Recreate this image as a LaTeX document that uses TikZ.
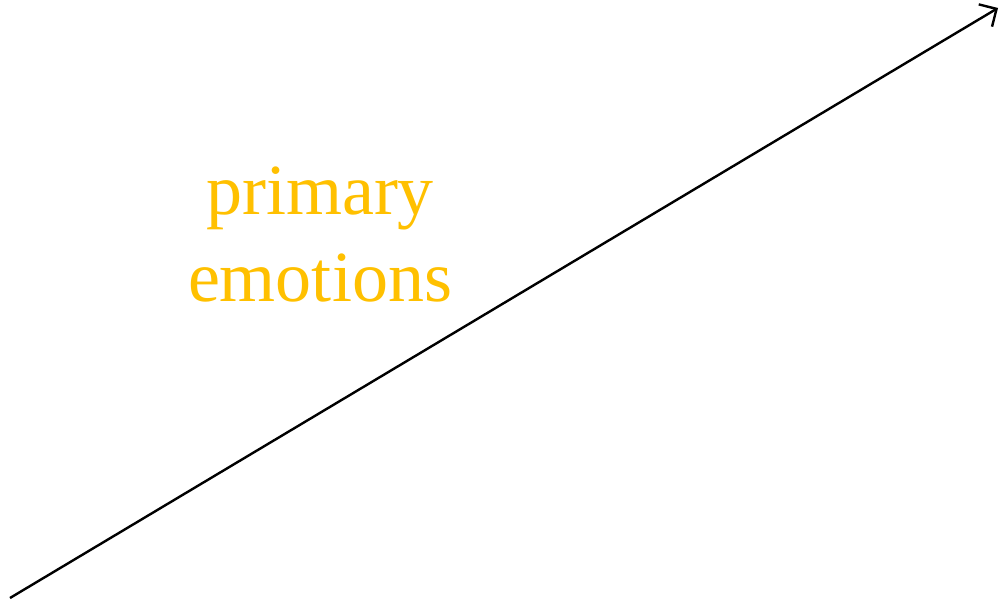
\documentclass[tikz,border=0pt]{standalone}
\usepackage{fontspec}
\setmainfont{Liberation Serif}
\usetikzlibrary{arrows.meta}
\definecolor{labelgold}{HTML}{FFC000}
\tikzset{
  axisarrow/.style={draw=black, line width=2.4pt, -{Straight Barb[length=13pt,width=26pt,line width=2.4pt]}},
  emolabel/.style={text=labelgold, align=center, inner sep=0pt,
    font=\fontsize{72}{87}\selectfont}
}
\begin{document}
\begin{tikzpicture}[x=1pt,y=-1pt]
\useasboundingbox (0,0) rectangle (1002,601);
\coordinate (start) at (10,598);
\coordinate (tip) at (998,8);
\draw[axisarrow] (start) -- (tip);
\node[emolabel, anchor=base] (lbl) at (320,302) {primary\\emotions};
\end{tikzpicture}
\end{document}
